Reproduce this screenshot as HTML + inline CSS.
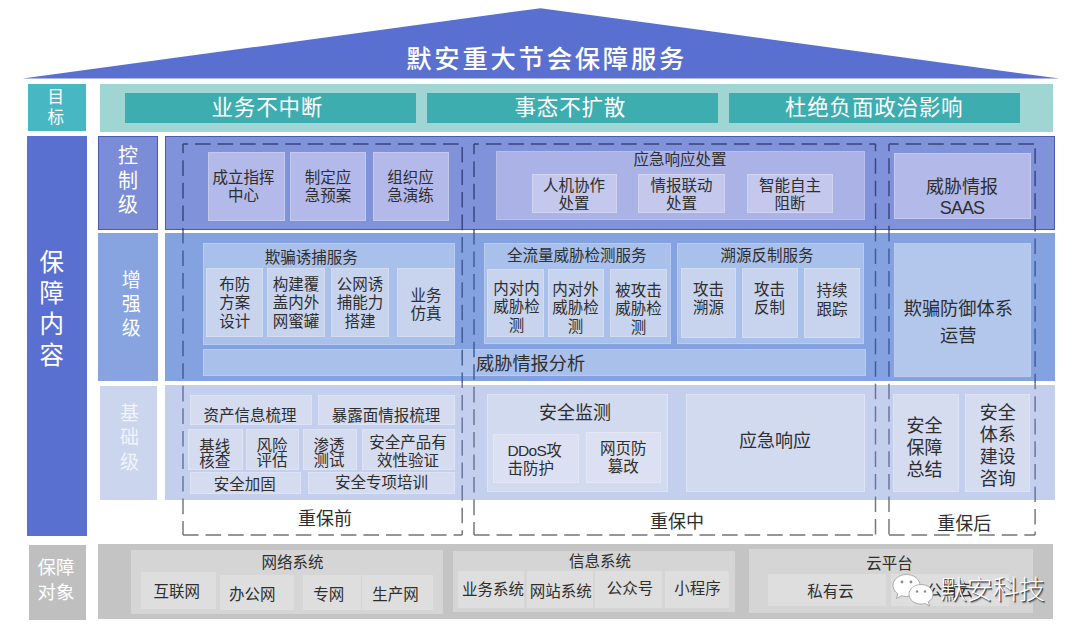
<!DOCTYPE html>
<html lang="zh-CN">
<head>
<meta charset="utf-8">
<title>默安重大节会保障服务</title>
<style>
html,body{margin:0;padding:0;background:#fff;}
body{width:1080px;height:638px;position:relative;overflow:hidden;font-family:"Liberation Sans","Noto Sans CJK SC",sans-serif;}
.r{position:absolute;box-sizing:border-box;}
.t{position:absolute;white-space:nowrap;text-align:center;}
svg{position:absolute;left:0;top:0;}
</style>
</head>
<body>
<svg width="1080" height="638" viewBox="0 0 1080 638"><polygon points="22.5,78.6 540.5,8.2 1059.5,78.6" fill="#5a70d0"/></svg>
<div class="r" style="left:28.0px;top:83.5px;width:58.0px;height:47.5px;background:#47b7c3;"></div>
<div class="r" style="left:99.5px;top:83.5px;width:953.5px;height:48.0px;background:#9fd6d4;"></div>
<div class="r" style="left:124.5px;top:92.7px;width:291.7px;height:30.6px;background:#3eadb0;"></div>
<div class="r" style="left:426.6px;top:92.7px;width:291.8px;height:30.6px;background:#3eadb0;"></div>
<div class="r" style="left:728.6px;top:92.7px;width:291.9px;height:30.6px;background:#3eadb0;"></div>
<div class="r" style="left:27.0px;top:136.0px;width:59.7px;height:399.5px;background:#5a70d0;"></div>
<div class="r" style="left:98.2px;top:135.5px;width:59.4px;height:94.0px;background:#7c8dd8;border:1px solid #4a5bb0;"></div>
<div class="r" style="left:98.2px;top:232.8px;width:59.5px;height:148.7px;background:#87a4e1;"></div>
<div class="r" style="left:100.0px;top:386.3px;width:56.8px;height:114.0px;background:#ccd5ee;"></div>
<div class="r" style="left:164.8px;top:135.5px;width:890.2px;height:94.0px;background:#8092da;border:1px solid #4a5bb0;"></div>
<div class="r" style="left:164.8px;top:232.8px;width:890.2px;height:148.7px;background:#84a2e0;"></div>
<div class="r" style="left:165.2px;top:385.0px;width:889.8px;height:114.8px;background:#c4cfee;"></div>
<div class="r" style="left:207.6px;top:151.8px;width:77.0px;height:69.2px;background:#b3b9e8;border:1px solid #c4c9f0;"></div>
<div class="r" style="left:290.3px;top:151.8px;width:75.7px;height:69.2px;background:#b3b9e8;border:1px solid #c4c9f0;"></div>
<div class="r" style="left:372.5px;top:151.8px;width:76.5px;height:69.2px;background:#b3b9e8;border:1px solid #c4c9f0;"></div>
<div class="r" style="left:496.0px;top:150.6px;width:369.0px;height:69.7px;background:#aab2e6;border:1px solid #b8bfec;"></div>
<div class="r" style="left:531.6px;top:174.0px;width:85.2px;height:38.5px;background:#c3c8ec;border:1px solid #d0d4f2;"></div>
<div class="r" style="left:638.0px;top:174.0px;width:86.7px;height:38.5px;background:#c3c8ec;border:1px solid #d0d4f2;"></div>
<div class="r" style="left:747.3px;top:174.0px;width:85.7px;height:38.5px;background:#c3c8ec;border:1px solid #d0d4f2;"></div>
<div class="r" style="left:893.5px;top:152.6px;width:137.5px;height:66.4px;background:#b3b9e8;border:1px solid #c4c9f0;"></div>
<div class="r" style="left:203.0px;top:242.5px;width:252.2px;height:102.3px;background:#a9c0ea;border:1px solid #b9ccef;"></div>
<div class="r" style="left:206.3px;top:267.8px;width:57.1px;height:69.4px;background:#c8d4ee;border:1px solid #d3ddf2;"></div>
<div class="r" style="left:267.2px;top:267.8px;width:58.1px;height:69.4px;background:#c8d4ee;border:1px solid #d3ddf2;"></div>
<div class="r" style="left:331.1px;top:267.8px;width:57.6px;height:69.4px;background:#c8d4ee;border:1px solid #d3ddf2;"></div>
<div class="r" style="left:396.8px;top:267.8px;width:58.4px;height:69.4px;background:#c8d4ee;border:1px solid #d3ddf2;"></div>
<div class="r" style="left:483.8px;top:242.5px;width:187.0px;height:101.8px;background:#a9c0ea;border:1px solid #b9ccef;"></div>
<div class="r" style="left:487.1px;top:268.5px;width:56.9px;height:68.7px;background:#c8d4ee;border:1px solid #d3ddf2;"></div>
<div class="r" style="left:547.8px;top:268.5px;width:56.4px;height:68.7px;background:#c8d4ee;border:1px solid #d3ddf2;"></div>
<div class="r" style="left:610.0px;top:268.5px;width:56.8px;height:68.7px;background:#c8d4ee;border:1px solid #d3ddf2;"></div>
<div class="r" style="left:677.2px;top:242.5px;width:186.4px;height:101.8px;background:#a9c0ea;border:1px solid #b9ccef;"></div>
<div class="r" style="left:681.3px;top:268.0px;width:55.1px;height:69.5px;background:#c8d4ee;border:1px solid #d3ddf2;"></div>
<div class="r" style="left:741.5px;top:268.0px;width:56.8px;height:69.5px;background:#c8d4ee;border:1px solid #d3ddf2;"></div>
<div class="r" style="left:804.1px;top:268.0px;width:56.4px;height:69.5px;background:#c8d4ee;border:1px solid #d3ddf2;"></div>
<div class="r" style="left:203.0px;top:349.2px;width:662.5px;height:27.1px;background:#a9c0ea;border:1px solid #b9ccef;"></div>
<div class="r" style="left:893.5px;top:242.5px;width:137.5px;height:134.1px;background:#b3c6ec;border:1px solid #b9ccef;"></div>
<div class="r" style="left:190.1px;top:395.1px;width:122.2px;height:30.2px;background:#d5dcf0;border:1px solid #dde3f4;"></div>
<div class="r" style="left:317.9px;top:395.1px;width:136.8px;height:30.2px;background:#d5dcf0;border:1px solid #dde3f4;"></div>
<div class="r" style="left:188.1px;top:429.2px;width:55.0px;height:41.3px;background:#d5dcf0;border:1px solid #dde3f4;"></div>
<div class="r" style="left:245.9px;top:429.2px;width:53.0px;height:41.3px;background:#d5dcf0;border:1px solid #dde3f4;"></div>
<div class="r" style="left:303.1px;top:429.2px;width:54.4px;height:41.3px;background:#d5dcf0;border:1px solid #dde3f4;"></div>
<div class="r" style="left:362.0px;top:429.2px;width:93.2px;height:41.3px;background:#d5dcf0;border:1px solid #dde3f4;"></div>
<div class="r" style="left:190.1px;top:471.9px;width:111.1px;height:22.3px;background:#d5dcf0;border:1px solid #dde3f4;"></div>
<div class="r" style="left:308.2px;top:471.9px;width:146.5px;height:22.3px;background:#d5dcf0;border:1px solid #dde3f4;"></div>
<div class="r" style="left:487.1px;top:394.3px;width:180.8px;height:97.9px;background:#d2daf0;border:1px solid #dde3f4;"></div>
<div class="r" style="left:492.9px;top:433.6px;width:85.7px;height:49.4px;background:#dbe1f2;border:1px solid #e2e7f5;"></div>
<div class="r" style="left:586.2px;top:432.0px;width:75.3px;height:51.0px;background:#dbe1f2;border:1px solid #e2e7f5;"></div>
<div class="r" style="left:686.1px;top:394.3px;width:179.0px;height:97.9px;background:#d2daf0;border:1px solid #dde3f4;"></div>
<div class="r" style="left:893.0px;top:394.3px;width:65.6px;height:97.7px;background:#d5dcf0;border:1px solid #dde3f4;"></div>
<div class="r" style="left:964.8px;top:394.3px;width:65.0px;height:97.7px;background:#d5dcf0;border:1px solid #dde3f4;"></div>
<div class="r" style="left:28.8px;top:545.0px;width:57.4px;height:74.5px;background:#bfbfbf;"></div>
<div class="r" style="left:98.3px;top:544.3px;width:954.5px;height:75.0px;background:#c4c4c4;"></div>
<div class="r" style="left:131.0px;top:549.5px;width:311.7px;height:64.9px;background:#d5d5d5;"></div>
<div class="r" style="left:140.5px;top:571.9px;width:75.5px;height:36.8px;background:#dedede;"></div>
<div class="r" style="left:220.1px;top:575.0px;width:73.7px;height:35.3px;background:#dedede;"></div>
<div class="r" style="left:303.2px;top:575.0px;width:57.7px;height:35.3px;background:#dedede;"></div>
<div class="r" style="left:362.4px;top:575.0px;width:70.9px;height:35.3px;background:#dedede;"></div>
<div class="r" style="left:452.7px;top:551.4px;width:282.1px;height:61.1px;background:#d5d5d5;"></div>
<div class="r" style="left:458.3px;top:571.0px;width:66.2px;height:37.0px;background:#dedede;"></div>
<div class="r" style="left:527.0px;top:571.0px;width:66.1px;height:37.0px;background:#dedede;"></div>
<div class="r" style="left:595.3px;top:571.0px;width:67.1px;height:37.0px;background:#dedede;"></div>
<div class="r" style="left:664.6px;top:571.0px;width:64.5px;height:37.0px;background:#dedede;"></div>
<div class="r" style="left:749.4px;top:548.9px;width:283.4px;height:64.5px;background:#d5d5d5;"></div>
<div class="r" style="left:767.7px;top:574.0px;width:118.7px;height:31.6px;background:#dedede;"></div>
<div class="r" style="left:890.5px;top:574.0px;width:118.7px;height:31.6px;background:#dedede;"></div>
<svg width="1080" height="638" viewBox="0 0 1080 638" fill="none" stroke-width="1.45" stroke-dasharray="15.6 6.95"><defs><clipPath id="c0"><rect x="0" y="130.0" width="1080" height="101.2"/></clipPath><clipPath id="c1"><rect x="0" y="231.2" width="1080" height="152.1"/></clipPath><clipPath id="c2"><rect x="0" y="383.3" width="1080" height="116.7"/></clipPath><clipPath id="c3"><rect x="0" y="500.0" width="1080" height="40.0"/></clipPath></defs><g stroke="#38447f" clip-path="url(#c0)"><line x1="183.0" y1="144.0" x2="462.2" y2="144.0" stroke-dashoffset="10.55"/><line x1="183.0" y1="144.0" x2="183.0" y2="534.9" stroke-dashoffset="6.25"/><line x1="183.0" y1="534.9" x2="462.2" y2="534.9" stroke-dashoffset="0.00"/><line x1="462.2" y1="144.0" x2="462.2" y2="534.9" stroke-dashoffset="19.65"/><line x1="474.0" y1="144.0" x2="875.5" y2="144.0" stroke-dashoffset="10.75"/><line x1="474.0" y1="144.0" x2="474.0" y2="534.9" stroke-dashoffset="5.25"/><line x1="474.0" y1="534.9" x2="875.5" y2="534.9" stroke-dashoffset="0.00"/><line x1="875.5" y1="144.0" x2="875.5" y2="534.9" stroke-dashoffset="8.35"/><line x1="889.0" y1="144.0" x2="1035.1" y2="144.0" stroke-dashoffset="5.95"/><line x1="889.0" y1="144.0" x2="889.0" y2="534.9" stroke-dashoffset="8.35"/><line x1="889.0" y1="534.9" x2="1035.1" y2="534.9" stroke-dashoffset="0.00"/><line x1="1035.1" y1="144.0" x2="1035.1" y2="534.9" stroke-dashoffset="18.35"/></g><g stroke="#405a98" clip-path="url(#c1)"><line x1="183.0" y1="144.0" x2="462.2" y2="144.0" stroke-dashoffset="10.55"/><line x1="183.0" y1="144.0" x2="183.0" y2="534.9" stroke-dashoffset="6.25"/><line x1="183.0" y1="534.9" x2="462.2" y2="534.9" stroke-dashoffset="0.00"/><line x1="462.2" y1="144.0" x2="462.2" y2="534.9" stroke-dashoffset="19.65"/><line x1="474.0" y1="144.0" x2="875.5" y2="144.0" stroke-dashoffset="10.75"/><line x1="474.0" y1="144.0" x2="474.0" y2="534.9" stroke-dashoffset="5.25"/><line x1="474.0" y1="534.9" x2="875.5" y2="534.9" stroke-dashoffset="0.00"/><line x1="875.5" y1="144.0" x2="875.5" y2="534.9" stroke-dashoffset="8.35"/><line x1="889.0" y1="144.0" x2="1035.1" y2="144.0" stroke-dashoffset="5.95"/><line x1="889.0" y1="144.0" x2="889.0" y2="534.9" stroke-dashoffset="8.35"/><line x1="889.0" y1="534.9" x2="1035.1" y2="534.9" stroke-dashoffset="0.00"/><line x1="1035.1" y1="144.0" x2="1035.1" y2="534.9" stroke-dashoffset="18.35"/></g><g stroke="#68729a" clip-path="url(#c2)"><line x1="183.0" y1="144.0" x2="462.2" y2="144.0" stroke-dashoffset="10.55"/><line x1="183.0" y1="144.0" x2="183.0" y2="534.9" stroke-dashoffset="6.25"/><line x1="183.0" y1="534.9" x2="462.2" y2="534.9" stroke-dashoffset="0.00"/><line x1="462.2" y1="144.0" x2="462.2" y2="534.9" stroke-dashoffset="19.65"/><line x1="474.0" y1="144.0" x2="875.5" y2="144.0" stroke-dashoffset="10.75"/><line x1="474.0" y1="144.0" x2="474.0" y2="534.9" stroke-dashoffset="5.25"/><line x1="474.0" y1="534.9" x2="875.5" y2="534.9" stroke-dashoffset="0.00"/><line x1="875.5" y1="144.0" x2="875.5" y2="534.9" stroke-dashoffset="8.35"/><line x1="889.0" y1="144.0" x2="1035.1" y2="144.0" stroke-dashoffset="5.95"/><line x1="889.0" y1="144.0" x2="889.0" y2="534.9" stroke-dashoffset="8.35"/><line x1="889.0" y1="534.9" x2="1035.1" y2="534.9" stroke-dashoffset="0.00"/><line x1="1035.1" y1="144.0" x2="1035.1" y2="534.9" stroke-dashoffset="18.35"/></g><g stroke="#747478" clip-path="url(#c3)"><line x1="183.0" y1="144.0" x2="462.2" y2="144.0" stroke-dashoffset="10.55"/><line x1="183.0" y1="144.0" x2="183.0" y2="534.9" stroke-dashoffset="6.25"/><line x1="183.0" y1="534.9" x2="462.2" y2="534.9" stroke-dashoffset="0.00"/><line x1="462.2" y1="144.0" x2="462.2" y2="534.9" stroke-dashoffset="19.65"/><line x1="474.0" y1="144.0" x2="875.5" y2="144.0" stroke-dashoffset="10.75"/><line x1="474.0" y1="144.0" x2="474.0" y2="534.9" stroke-dashoffset="5.25"/><line x1="474.0" y1="534.9" x2="875.5" y2="534.9" stroke-dashoffset="0.00"/><line x1="875.5" y1="144.0" x2="875.5" y2="534.9" stroke-dashoffset="8.35"/><line x1="889.0" y1="144.0" x2="1035.1" y2="144.0" stroke-dashoffset="5.95"/><line x1="889.0" y1="144.0" x2="889.0" y2="534.9" stroke-dashoffset="8.35"/><line x1="889.0" y1="534.9" x2="1035.1" y2="534.9" stroke-dashoffset="0.00"/><line x1="1035.1" y1="144.0" x2="1035.1" y2="534.9" stroke-dashoffset="18.35"/></g></svg>
<div class="t" style="left:346.7px;width:400px;top:44.1px;font-size:25.3px;line-height:30.4px;color:#ffffff;letter-spacing:2.8px;font-weight:500;">默安重大节会保障服务</div>
<div class="t" style="left:67.3px;width:400px;top:95.7px;font-size:21.5px;line-height:25.8px;color:#ffffff;letter-spacing:0.8px;">业务不中断</div>
<div class="t" style="left:370.3px;width:400px;top:95.7px;font-size:21.5px;line-height:25.8px;color:#ffffff;letter-spacing:0.8px;">事态不扩散</div>
<div class="t" style="left:674.2px;width:400px;top:96.3px;font-size:21.5px;line-height:25.8px;color:#ffffff;letter-spacing:0.8px;">杜绝负面政治影响</div>
<div class="t" style="left:-144.2px;width:400px;top:88.3px;font-size:16.5px;line-height:19.8px;color:#ffffff;">目<br>标</div>
<div class="t" style="left:-148.3px;width:400px;top:248.2px;font-size:24.5px;line-height:30.9px;color:#ffffff;">保<br>障<br>内<br>容</div>
<div class="t" style="left:-72.0px;width:400px;top:144.2px;font-size:20.0px;line-height:24.5px;color:#ffffff;">控<br>制<br>级</div>
<div class="t" style="left:-68.8px;width:400px;top:269.0px;font-size:19.0px;line-height:24.0px;color:#ffffff;">增<br>强<br>级</div>
<div class="t" style="left:-70.4px;width:400px;top:401.6px;font-size:19.0px;line-height:24.5px;color:#f1f4fb;">基<br>础<br>级</div>
<div class="t" style="left:-144.0px;width:400px;top:554.8px;font-size:18.5px;line-height:25.5px;color:#ffffff;">保障<br>对象</div>
<div class="t" style="left:43.6px;width:400px;top:168.7px;font-size:15.5px;line-height:18.8px;color:#2e2e2e;">成立指挥<br>中心</div>
<div class="t" style="left:128.0px;width:400px;top:168.7px;font-size:15.5px;line-height:18.8px;color:#2e2e2e;">制定应<br>急预案</div>
<div class="t" style="left:210.5px;width:400px;top:168.7px;font-size:15.5px;line-height:18.8px;color:#2e2e2e;">组织应<br>急演练</div>
<div class="t" style="left:480.0px;width:400px;top:151.3px;font-size:15.5px;line-height:18.6px;color:#2e2e2e;">应急响应处置</div>
<div class="t" style="left:374.0px;width:400px;top:176.8px;font-size:15.5px;line-height:18.5px;color:#2e2e2e;">人机协作<br>处置</div>
<div class="t" style="left:481.5px;width:400px;top:176.8px;font-size:15.5px;line-height:18.5px;color:#2e2e2e;">情报联动<br>处置</div>
<div class="t" style="left:590.0px;width:400px;top:176.8px;font-size:15.5px;line-height:18.5px;color:#2e2e2e;">智能自主<br>阻断</div>
<div class="t" style="left:762.0px;width:400px;top:176.8px;font-size:18.0px;line-height:21.5px;color:#2e2e2e;">威胁情报<br><span style="letter-spacing:-0.9px">SAAS</span></div>
<div class="t" style="left:111.3px;width:400px;top:248.8px;font-size:15.5px;line-height:18.6px;color:#2e2e2e;">欺骗诱捕服务</div>
<div class="t" style="left:34.8px;width:400px;top:275.7px;font-size:15.5px;line-height:18.8px;color:#2e2e2e;">布防<br>方案<br>设计</div>
<div class="t" style="left:96.0px;width:400px;top:275.7px;font-size:15.5px;line-height:18.8px;color:#2e2e2e;">构建覆<br>盖内外<br>网蜜罐</div>
<div class="t" style="left:160.0px;width:400px;top:275.7px;font-size:15.5px;line-height:18.8px;color:#2e2e2e;">公网诱<br>捕能力<br>搭建</div>
<div class="t" style="left:226.0px;width:400px;top:286.7px;font-size:15.5px;line-height:18.8px;color:#2e2e2e;">业务<br>仿真</div>
<div class="t" style="left:376.8px;width:400px;top:247.3px;font-size:15.5px;line-height:18.6px;color:#2e2e2e;">全流量威胁检测服务</div>
<div class="t" style="left:316.5px;width:400px;top:279.7px;font-size:15.5px;line-height:18.8px;color:#2e2e2e;">内对内<br>威胁检<br>测</div>
<div class="t" style="left:375.5px;width:400px;top:280.7px;font-size:15.5px;line-height:18.8px;color:#2e2e2e;">内对外<br>威胁检<br>测</div>
<div class="t" style="left:438.5px;width:400px;top:281.7px;font-size:15.5px;line-height:18.8px;color:#2e2e2e;">被攻击<br>威胁检<br>测</div>
<div class="t" style="left:567.0px;width:400px;top:247.3px;font-size:15.5px;line-height:18.6px;color:#2e2e2e;">溯源反制服务</div>
<div class="t" style="left:508.5px;width:400px;top:280.9px;font-size:15.5px;line-height:18.5px;color:#2e2e2e;">攻击<br>溯源</div>
<div class="t" style="left:569.5px;width:400px;top:280.9px;font-size:15.5px;line-height:18.5px;color:#2e2e2e;">攻击<br>反制</div>
<div class="t" style="left:632.0px;width:400px;top:282.4px;font-size:15.5px;line-height:18.5px;color:#2e2e2e;">持续<br>跟踪</div>
<div class="t" style="left:330.6px;width:400px;top:353.5px;font-size:18.2px;line-height:21.8px;color:#2e2e2e;">威胁情报分析</div>
<div class="t" style="left:758.3px;width:400px;top:296.1px;font-size:18.2px;line-height:26.5px;color:#2e2e2e;">欺骗防御体系<br>运营</div>
<div class="t" style="left:50.1px;width:400px;top:406.5px;font-size:15.5px;line-height:18.6px;color:#2e2e2e;">资产信息梳理</div>
<div class="t" style="left:185.9px;width:400px;top:406.5px;font-size:15.5px;line-height:18.6px;color:#2e2e2e;">暴露面情报梳理</div>
<div class="t" style="left:14.7px;width:400px;top:438.9px;font-size:15.5px;line-height:15.3px;color:#2e2e2e;">基线<br>核查</div>
<div class="t" style="left:71.9px;width:400px;top:437.5px;font-size:15.5px;line-height:15.8px;color:#2e2e2e;">风险<br>评估</div>
<div class="t" style="left:129.1px;width:400px;top:437.9px;font-size:15.5px;line-height:15.5px;color:#2e2e2e;">渗透<br>测试</div>
<div class="t" style="left:208.1px;width:400px;top:434.1px;font-size:15.5px;line-height:18.0px;color:#2e2e2e;">安全产品有<br>效性验证</div>
<div class="t" style="left:44.8px;width:400px;top:476.2px;font-size:15.5px;line-height:18.6px;color:#2e2e2e;">安全加固</div>
<div class="t" style="left:181.6px;width:400px;top:474.3px;font-size:15.5px;line-height:18.6px;color:#2e2e2e;">安全专项培训</div>
<div class="t" style="left:124.9px;width:400px;top:509.2px;font-size:18.0px;line-height:21.6px;color:#2e2e2e;">重保前</div>
<div class="t" style="left:375.0px;width:400px;top:402.7px;font-size:18.0px;line-height:21.6px;color:#2e2e2e;">安全监测</div>
<div class="t" style="left:507.4px;top:441.5px;font-size:15.5px;line-height:18.2px;color:#2e2e2e;text-align:left;"><span style="letter-spacing:-0.6px">DDoS</span>攻<br>击防护</div>
<div class="t" style="left:423.3px;width:400px;top:440.1px;font-size:15.5px;line-height:18.2px;color:#2e2e2e;">网页防<br>篡改</div>
<div class="t" style="left:575.0px;width:400px;top:431.1px;font-size:18.0px;line-height:21.6px;color:#2e2e2e;">应急响应</div>
<div class="t" style="left:476.9px;width:400px;top:511.8px;font-size:18.0px;line-height:21.6px;color:#2e2e2e;">重保中</div>
<div class="t" style="left:724.6px;width:400px;top:414.5px;font-size:18.0px;line-height:22.0px;color:#2e2e2e;">安全<br>保障<br>总结</div>
<div class="t" style="left:797.7px;width:400px;top:402.8px;font-size:18.0px;line-height:21.9px;color:#2e2e2e;">安全<br>体系<br>建设<br>咨询</div>
<div class="t" style="left:764.2px;width:400px;top:513.6px;font-size:18.0px;line-height:21.6px;color:#2e2e2e;">重保后</div>
<div class="t" style="left:92.5px;width:400px;top:554.2px;font-size:15.5px;line-height:18.6px;color:#2e2e2e;">网络系统</div>
<div class="t" style="left:-23.3px;width:400px;top:583.2px;font-size:15.5px;line-height:18.6px;color:#2e2e2e;">互联网</div>
<div class="t" style="left:52.2px;width:400px;top:585.7px;font-size:15.5px;line-height:18.6px;color:#2e2e2e;">办公网</div>
<div class="t" style="left:128.8px;width:400px;top:586.3px;font-size:15.5px;line-height:18.6px;color:#2e2e2e;">专网</div>
<div class="t" style="left:195.5px;width:400px;top:586.3px;font-size:15.5px;line-height:18.6px;color:#2e2e2e;">生产网</div>
<div class="t" style="left:400.0px;width:400px;top:552.7px;font-size:15.5px;line-height:18.6px;color:#2e2e2e;">信息系统</div>
<div class="t" style="left:293.0px;width:400px;top:581.0px;font-size:15.5px;line-height:18.6px;color:#2e2e2e;">业务系统</div>
<div class="t" style="left:360.7px;width:400px;top:582.6px;font-size:15.5px;line-height:18.6px;color:#2e2e2e;">网站系统</div>
<div class="t" style="left:430.0px;width:400px;top:580.0px;font-size:15.5px;line-height:18.6px;color:#2e2e2e;">公众号</div>
<div class="t" style="left:497.6px;width:400px;top:580.0px;font-size:15.5px;line-height:18.6px;color:#2e2e2e;">小程序</div>
<div class="t" style="left:689.6px;width:400px;top:554.8px;font-size:15.5px;line-height:18.6px;color:#2e2e2e;">云平台</div>
<div class="t" style="left:630.4px;width:400px;top:582.6px;font-size:15.5px;line-height:18.6px;color:#2e2e2e;">私有云</div>
<div class="t" style="left:750.0px;width:400px;top:582.3px;font-size:15.5px;line-height:18.6px;color:#2e2e2e;">公有云</div>
<svg width="1080" height="638" viewBox="0 0 1080 638">
<g fill="#ffffff" stroke="#9a9a9a" stroke-width="0.8">
<path d="M906.5 574.5c-7.5 0-13.5 4.9-13.5 11 0 3.4 1.9 6.4 4.9 8.4l-1.6 4.6 5.3-2.7c1.5.4 3.2.7 4.9.7 7.5 0 13.5-4.9 13.5-11s-6-11-13.5-11z"/>
<path d="M921 584.5c-6.6 0-12 4.4-12 9.8s5.4 9.8 12 9.8c1.4 0 2.800-.2 4-.6l4.600 2.500-1.300-4.100c2.900-1.800 4.700-4.500 4.700-7.600 0-5.400-5.400-9.800-12-9.800z"/>
</g>
<g fill="#8a8a8a"><circle cx="902" cy="582" r="1.400"/><circle cx="911" cy="582" r="1.400"/><circle cx="917" cy="591.500" r="1.200"/><circle cx="925" cy="591.500" r="1.200"/></g>
</svg>
<div class="t" style="left:940.5px;top:574px;font-size:26px;line-height:32px;color:#fff;text-align:left;font-weight:300;letter-spacing:0.2px;text-shadow:1px 1px 0 rgba(50,50,50,.85),1.5px 1.5px 1px rgba(60,60,60,.5);">默安科技</div>
</body>
</html>
